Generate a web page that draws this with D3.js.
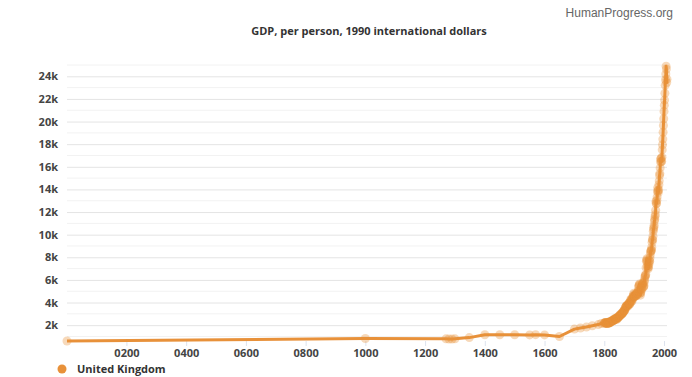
<!DOCTYPE html>
<html>
<head>
<meta charset="utf-8">
<script src="https://cdn.jsdelivr.net/npm/d3@7"></script>
<style>
  html, body { margin: 0; padding: 0; background: #fff; }
  svg { display: block; }
</style>
</head>
<body>
<div id="chart"></div>
<script>
// Sparse early benchmarks, then annual values from 1800
const earlyYears = [1, 1000, 1270, 1280, 1290, 1300, 1348, 1400, 1450, 1500, 1550, 1570, 1600, 1650, 1700, 1720, 1740, 1760, 1780, 1790];
const earlyValues = [600, 820, 790, 780, 770, 790, 900, 1150, 1150, 1150, 1140, 1160, 1140, 1000, 1650, 1750, 1830, 1950, 2050, 2150];

const annualStart = 1800;
const annualValues = [
  2190, 2160, 2230, 2200, 2210, 2240, 2200, 2180, 2150, 2170, // 1800s
  2230, 2170, 2140, 2190, 2260, 2290, 2210, 2190, 2240, 2220, // 1810s
  2250, 2290, 2320, 2310, 2360, 2400, 2330, 2380, 2420, 2390, // 1820s
  2410, 2450, 2430, 2460, 2500, 2550, 2590, 2540, 2570, 2600, // 1830s
  2580, 2550, 2510, 2570, 2650, 2700, 2740, 2690, 2710, 2750, // 1840s
  2780, 2820, 2860, 2930, 2910, 2890, 2960, 2990, 2950, 3020, // 1850s
  3080, 3110, 3070, 3120, 3190, 3260, 3310, 3260, 3300, 3350, // 1860s
  3450, 3580, 3600, 3660, 3690, 3720, 3730, 3740, 3710, 3660, // 1870s
  3790, 3870, 3950, 3940, 3900, 3860, 3890, 4010, 4140, 4270, // 1880s
  4290, 4240, 4150, 4130, 4300, 4380, 4520, 4560, 4680, 4820, // 1890s
  4550, 4560, 4630, 4560, 4540, 4630, 4740, 4800, 4620, 4660, // 1900s
  4750, 4850, 4840, 5010, 5020, 5380, 5500, 5560, 5640, 5080, // 1910s
  4820, 4650, 4870, 5020, 5190, 5380, 5190, 5560, 5620, 5760, // 1920s
  5710, 5380, 5400, 5500, 5820, 6000, 6210, 6360, 6400, 6480, // 1930s
  7080, 7650, 7760, 7880, 7620, 7300, 7100, 6980, 7130, 7330, // 1940s
  7500, 7700, 7660, 7930, 8220, 8480, 8550, 8650, 8600, 8890, // 1950s
  9320, 9540, 9560, 9860, 10300, 10500, 10650, 10830, 11210, 11370, // 1960s
  11600, 11780, 12160, 12940, 12760, 12750, 13040, 13330, 13800, 14160, // 1970s
  13910, 13720, 13950, 14420, 14760, 15240, 15400, 15900, 16450, 16700, // 1980s
  16750, 16450, 16480, 16850, 17500, 17950, 18450, 19050, 19650, 20250, // 1990s
  20900, 21450, 21900, 22500, 23200, 23700, 24200, 24900, 24650, 23450, // 2000s
  23750 // 2010
];

const seriesName = 'United Kingdom';
const xTicks = [200, 400, 600, 800, 1000, 1200, 1400, 1600, 1800, 2000];
const yMajorTicks = d3.range(2000, 24001, 2000);
const yMinorTicks = d3.range(1000, 25001, 2000);

const data = earlyYears.map((y, i) => ({ year: y, value: earlyValues[i] }))
  .concat(annualValues.map((v, i) => ({ year: annualStart + i, value: v })));

const width = 692, height = 377;
const margin = { top: 65, right: 25, bottom: 36, left: 67 };
const color = '#e8913a';
const labelFont = '"Open Sans", "Noto Sans", sans-serif';

const svg = d3.select('#chart').append('svg')
  .attr('width', width)
  .attr('height', height);

const x = d3.scaleLinear()
  .domain([1, 2010])
  .range([margin.left, width - margin.right]);

const y = d3.scaleLinear()
  .domain([600, 25000])
  .range([height - margin.bottom, margin.top]);

// Gridlines (minor ones between the labelled ticks)
svg.append('g')
  .selectAll('line.minor')
  .data(yMinorTicks)
  .join('line')
  .attr('x1', margin.left).attr('x2', width - margin.right)
  .attr('y1', d => y(d)).attr('y2', d => y(d))
  .attr('stroke', '#f2f2f2');

const yAxis = svg.append('g')
  .attr('transform', `translate(${margin.left},0)`)
  .call(d3.axisLeft(y)
    .tickValues(yMajorTicks)
    .tickSize(-(width - margin.left - margin.right))
    .tickPadding(9)
    .tickFormat(d => (d / 1000) + 'k'));
yAxis.select('.domain').remove();
yAxis.selectAll('.tick line').attr('stroke', '#e4e4e4');
yAxis.selectAll('.tick text')
  .attr('fill', '#444')
  .attr('font-size', 11)
  .attr('font-weight', 700)
  .style('font-family', labelFont);

const xAxis = svg.append('g')
  .attr('transform', `translate(0,${height - margin.bottom})`)
  .call(d3.axisBottom(x)
    .tickValues(xTicks)
    .tickSize(5)
    .tickPadding(3)
    .tickFormat(d => String(d).padStart(4, '0')));
xAxis.select('.domain').remove();
xAxis.selectAll('.tick line').attr('stroke', '#dde3ee');
xAxis.selectAll('.tick text')
  .attr('fill', '#444')
  .attr('font-size', 11)
  .attr('font-weight', 700)
  .style('font-family', labelFont);

// Series line + markers
const line = d3.line()
  .x(d => x(d.year))
  .y(d => y(d.value));

svg.append('path')
  .datum(data)
  .attr('fill', 'none')
  .attr('stroke', color)
  .attr('stroke-width', 3)
  .attr('stroke-linejoin', 'round')
  .attr('d', line);

svg.append('g')
  .selectAll('circle')
  .data(data)
  .join('circle')
  .attr('cx', d => x(d.year))
  .attr('cy', d => y(d.value))
  .attr('r', 4.5)
  .attr('fill', color)
  .attr('fill-opacity', 0.35);

// Title and credit
svg.append('text')
  .attr('x', 369)
  .attr('y', 35)
  .attr('text-anchor', 'middle')
  .attr('font-size', 11)
  .attr('font-weight', 700)
  .attr('fill', '#333')
  .style('font-family', labelFont)
  .text('GDP, per person, 1990 international dollars');

svg.append('text')
  .attr('x', 673)
  .attr('y', 17)
  .attr('text-anchor', 'end')
  .attr('font-size', 12)
  .attr('fill', '#666')
  .style('font-family', '"Liberation Sans", Arial, sans-serif')
  .text('HumanProgress.org');

// Legend
const legend = svg.append('g').attr('transform', 'translate(62,369)');
legend.append('circle')
  .attr('r', 4.5)
  .attr('fill', color);
legend.append('text')
  .attr('x', 15)
  .attr('y', 4)
  .attr('font-size', 11)
  .attr('font-weight', 700)
  .attr('fill', '#333')
  .style('font-family', labelFont)
  .text(seriesName);
</script>
</body>
</html>
